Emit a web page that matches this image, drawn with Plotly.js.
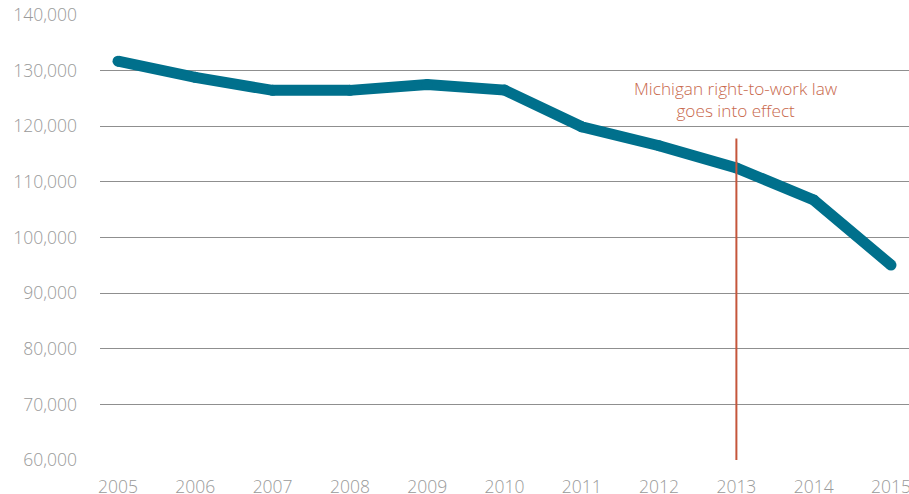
<!DOCTYPE html>
<html>
<head>
<meta charset="utf-8">
<script src="https://cdn.plot.ly/plotly-3.0.1.min.js"></script>
<style>html,body{margin:0;padding:0;background:#fff;}#chart{width:909px;height:494px;}</style>
</head>
<body>
<div id="chart"></div>
<script>
const years = [2005, 2006, 2007, 2008, 2009, 2010, 2011, 2012, 2013, 2014, 2015];
const members = [131700, 128800, 126450, 126450, 127500, 126500, 119900, 116500, 112500, 106750, 95050];
const yTicks = [60000, 70000, 80000, 90000, 100000, 110000, 120000, 130000, 140000];
const eventYear = 2013;
const eventLabel = "Michigan right-to-work law<br>goes into effect";

const trace = {
  x: years, y: members, type: "scatter", mode: "lines+markers",
  line: {color: "#00708C", width: 11},
  marker: {color: "#00708C", size: 11},
  hoverinfo: "skip", showlegend: false
};

const FONT = "Open Sans, Liberation Sans, Arial, sans-serif";

const layout = {
  width: 909, height: 494,
  margin: {l: 100, r: 0, t: 15, b: 34},
  paper_bgcolor: "#fff", plot_bgcolor: "#fff",
  font: {family: FONT, color: "#999999", size: 16, weight: 300},
  xaxis: {
    range: [2004.767, 2015.233], tickvals: years, ticktext: years.map(String),
    showgrid: false, zeroline: false, showline: false, ticks: "",
    ticklabeloverflow: "allow",
    ticklabelstandoff: 14, tickfont: {family: FONT, size: 17.5, color: "#9a9a9a", weight: 300}, fixedrange: true
  },
  yaxis: {
    range: [60000, 140000], tickvals: yTicks, tickformat: ",d",
    showgrid: true, gridcolor: "#8f8f8f", gridwidth: 1, zeroline: false, showline: false,
    ticklabeloverflow: "allow",
    ticks: "", ticklabelstandoff: 22, tickfont: {family: FONT, size: 17.5, color: "#9a9a9a", weight: 300}, fixedrange: true
  },
  shapes: [{
    type: "line", xref: "x", yref: "y", x0: eventYear, x1: eventYear, y0: 60000, y1: 117800,
    line: {color: "#C5563B", width: 2}
  }],
  annotations: [{
    x: eventYear, xref: "x", y: 124800, yref: "y", yanchor: "middle", xanchor: "center",
    text: eventLabel, showarrow: false, align: "center",
    font: {size: 17.2, color: "#C8684C", family: FONT, weight: 300}
  }]
};

Plotly.newPlot("chart", [trace], layout, {displayModeBar: false, staticPlot: true});
</script>
</body>
</html>
